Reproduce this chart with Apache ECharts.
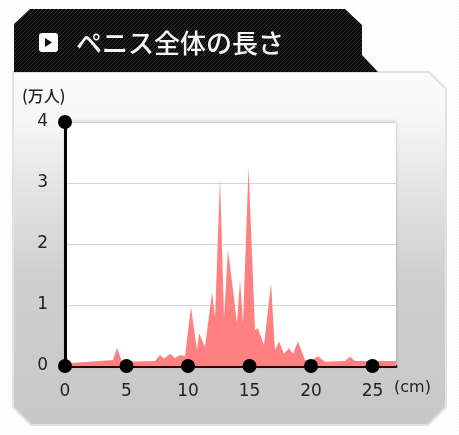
<!DOCTYPE html>
<html><head><meta charset="utf-8">
<style>html,body{margin:0;padding:0;background:#fff}#c{width:459px;height:435px}</style>
<script src="https://cdn.jsdelivr.net/npm/echarts@6/dist/echarts.min.js"></script>
</head><body><div id="c"></div>
<script>
const titleText = 'ペニス全体の長さ';
const yUnit = '(万人)';
const xUnit = '(cm)';
const xTicks = [0, 5, 10, 15, 20, 25];
const yTicks = [0, 1, 2, 3, 4];
const lengthsCm = [0,3.9,4.23,4.63,7.32,7.72,8.05,8.54,8.94,9.35,9.76,10.24,10.73,10.89,11.38,11.95,12.2,12.6,12.93,13.25,13.66,13.98,14.23,14.47,14.92,15.45,15.69,16.18,16.75,17.07,17.4,17.8,18.21,18.54,18.94,19.51,20.08,20.57,21.14,22.76,23.17,23.58,26.91];
const peopleMan = [0.04,0.1,0.3,0.07,0.08,0.18,0.12,0.2,0.13,0.18,0.16,0.97,0.26,0.54,0.31,1.2,0.8,3.08,0.8,1.9,1.25,0.7,1.41,0.7,3.26,0.59,0.62,0.34,1.36,0.26,0.4,0.2,0.29,0.2,0.4,0.1,0.1,0.16,0.07,0.08,0.15,0.08,0.08];

function dots(){const k=document.createElement('canvas');k.width=k.height=4;const g=k.getContext('2d');g.fillStyle='#fff';g.fillRect(0,0,4,4);g.fillStyle='#f3f3f3';g.fillRect(0,0,1,1);g.fillRect(2,2,1,1);return k;}
function hatch(){const k=document.createElement('canvas');k.width=k.height=4;const g=k.getContext('2d');g.fillStyle='#0c0c0c';g.fillRect(0,0,4,4);g.fillStyle='#2e2e2e';g.fillRect(3,0,1,1);g.fillRect(2,1,1,1);g.fillRect(1,2,1,1);g.fillRect(0,3,1,1);return k;}

const chart = echarts.init(document.getElementById('c'), null, {renderer:'canvas'});
const font = '"DejaVu Sans", sans-serif';
chart.setOption({
  animation:false,
  backgroundColor:'#fff',
  graphic:{elements:[
    {type:'rect',z:-10,silent:true,shape:{x:0,y:0,width:459,height:435},style:{fill:{image:dots(),repeat:'repeat'}}},
    {type:'polygon',z:-9,silent:true,shape:{points:[[13,72],[429,72],[446,89],[446,407],[428,425],[31,425],[13,407]]},
      style:{stroke:'#e2e2e2',lineWidth:2,fill:{type:'linear',x:0,y:0,x2:0,y2:1,colorStops:[{offset:0,color:'#fbfbfb'},{offset:0.14,color:'#f6f6f6'},{offset:0.31,color:'#e6e6e6'},{offset:0.58,color:'#cfcfcf'},{offset:1,color:'#c8c8c8'}]}}},
    {type:'polygon',z:-8,silent:true,shape:{points:[[14,24],[30,9],[345,9],[362,25],[362,55],[378,72],[14,72]]},style:{fill:{image:hatch(),repeat:'repeat'}}},
    {type:'rect',z:-7,silent:true,shape:{x:39,y:33,width:19,height:19,r:3},style:{fill:'#fff'}},
    {type:'polygon',z:-6,silent:true,shape:{points:[[45,38],[45,47],[52,42.5]]},style:{fill:'#111'}},
    {type:'text',z:-6,silent:true,style:{x:76,y:43,text:titleText,fill:'#f4f4f4',font:'500 26px "Noto Sans CJK JP"',verticalAlign:'middle'}},
    {type:'text',z:10,silent:true,style:{x:22,y:96,text:yUnit,fill:'#222',font:'500 16px "Noto Sans CJK JP"',verticalAlign:'middle'}},
    {type:'text',z:10,silent:true,style:{x:394,y:388,text:xUnit,fill:'#222',font:'16px '+font,verticalAlign:'middle'}}
  ]},
  grid:{left:65,top:122,right:63,bottom:69,show:true,backgroundColor:'#fff',borderWidth:0,
    shadowColor:'rgba(0,0,0,0.25)',shadowBlur:3},
  xAxis:{type:'value',min:0,max:26.91,interval:5,
    axisLine:{show:true,onZero:true,lineStyle:{color:'#2a0505',width:3}},axisTick:{show:false},splitLine:{show:false},
    axisLabel:{color:'#222',fontSize:17,fontFamily:font,margin:17,showMaxLabel:false,formatter:v=>xTicks.includes(v)?String(v):''}},
  yAxis:{type:'value',min:0,max:4,interval:1,
    axisLine:{show:true,lineStyle:{color:'#000',width:3}},axisTick:{show:false},
    splitLine:{lineStyle:{color:'#d4d4d4',width:1}},
    axisLabel:{color:'#222',fontSize:17,fontFamily:font,margin:17,formatter:v=>yTicks.includes(v)?String(v):''}},
  series:[
    {type:'line',data:lengthsCm.map((x,i)=>[x,peopleMan[i]]),symbol:'none',smooth:false,z:2,lineStyle:{width:0},areaStyle:{color:'#ff8080',opacity:1}},
    {type:'scatter',data:xTicks.map(x=>[x,0]).concat([[0,4]]),symbol:'circle',symbolSize:14,itemStyle:{color:'#000',opacity:1},z:6,clip:false}
  ]
});
</script></body></html>
